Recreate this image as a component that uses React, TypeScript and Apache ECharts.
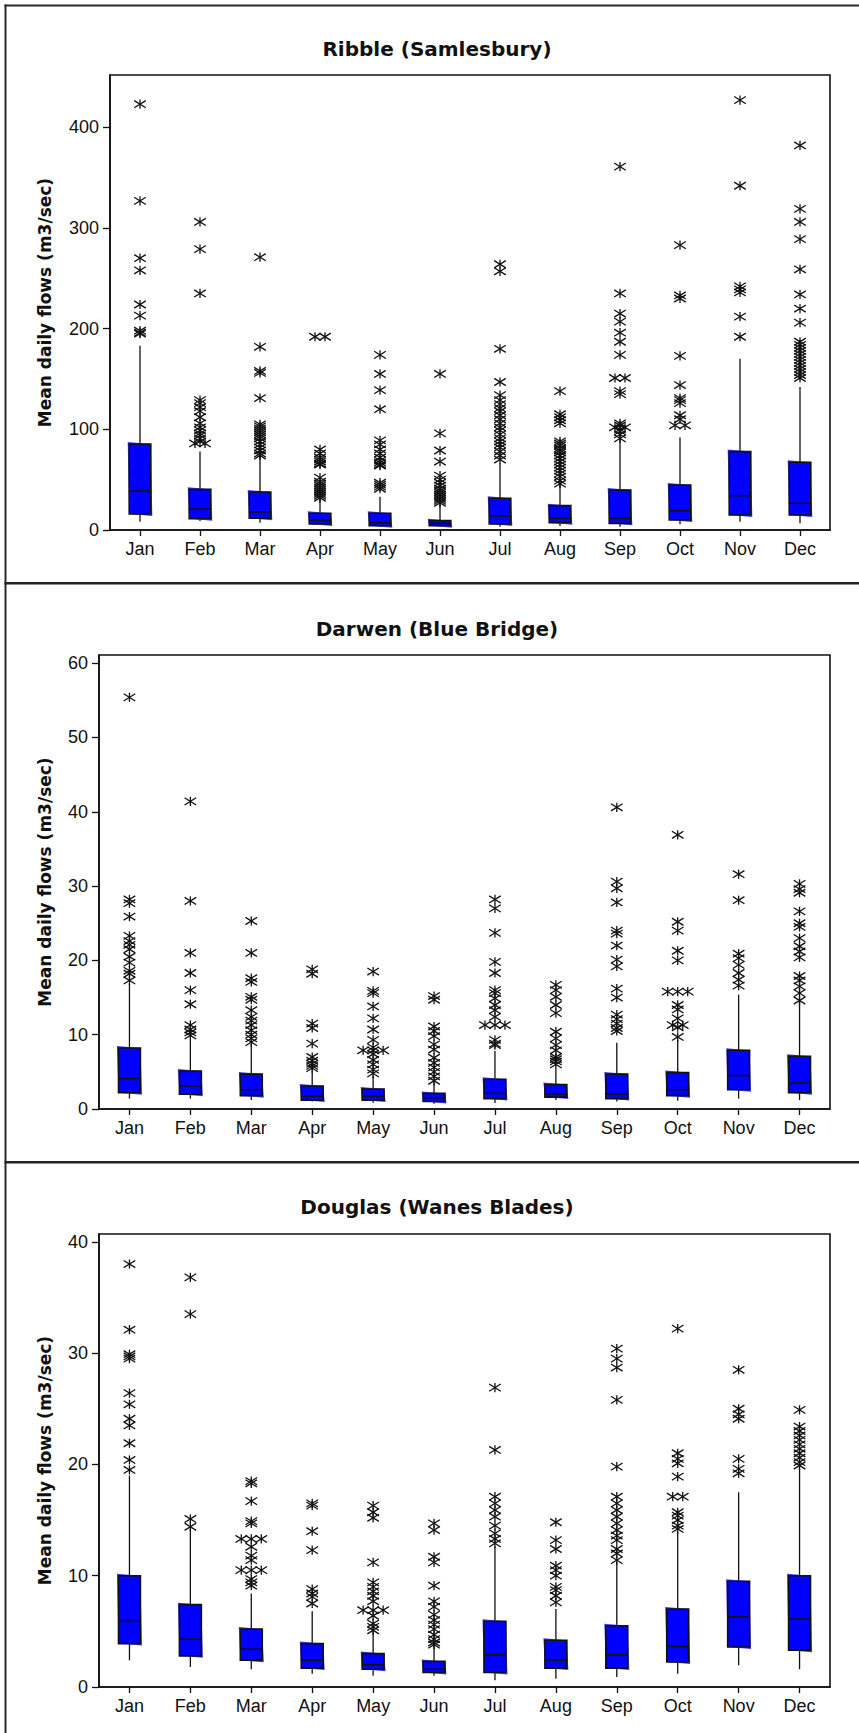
import React, { useEffect, useRef } from "react";
import * as echarts from "echarts";

// Month categories shared by all three gauging stations
const MONTHS = ["Jan", "Feb", "Mar", "Apr", "May", "Jun", "Jul", "Aug", "Sep", "Oct", "Nov", "Dec"];

const Y_NAME = "Mean daily flows (m3/sec)";

// ---------------- Ribble (Samlesbury) ----------------
const RIBBLE_TITLE = "Ribble (Samlesbury)";
const RIBBLE_TICKS = [0, 100, 200, 300, 400];
const RIBBLE_MAX = 452;
// [lower whisker, Q1, median, Q3, upper whisker]
const RIBBLE_BOX = [
  [8.3, 15.9, 38.8, 85.5, 183],
  [9, 11.3, 20.9, 40.4, 78],
  [7.3, 11.6, 17.9, 37.8, 73],
  [5, 6, 9.6, 16.6, 30],
  [3, 4.3, 7.3, 16.6, 33],
  [3, 4.3, 6.6, 9.3, 25],
  [3.3, 6, 13.9, 31.5, 66],
  [4, 7.3, 11.6, 24.2, 45],
  [3.3, 6.6, 11.6, 39.8, 93],
  [5.6, 10, 19.2, 44.7, 92],
  [8.3, 14.9, 34.1, 77.9, 170],
  [6.6, 14.9, 26.5, 67.3, 142],
];
const RIBBLE_OUT = [
  [423, 327, 270, 258, 224, 213, 198, 196, 195],
  [306, 279, 235, 129, 126, 122, 118, 112, 106, 102, 99, 96, 94, 91, 88, 86, 86],
  [271, 182, 158, 156, 131, 105, 103, 101, 99, 97, 95, 93, 91, 88, 85, 82, 79, 76, 74],
  [192, 192, 80, 76, 72, 70, 68, 66, 65, 52, 48, 46, 44, 42, 40, 38, 36, 34, 32],
  [174, 155, 139, 120, 89, 85, 80, 76, 72, 69, 67, 65, 64, 47, 45, 43, 41],
  [155, 96, 79, 68, 54, 50, 47, 44, 41, 39, 37, 35, 33, 31, 29, 27],
  [264, 257, 180, 147, 134, 129, 125, 121, 118, 114, 110, 106, 102, 99, 95, 91, 88, 85, 82, 78, 74, 70],
  [138, 115, 112, 109, 106, 88, 86, 84, 81, 79, 77, 74, 71, 68, 65, 62, 59, 56, 53, 49, 46],
  [361, 235, 215, 207, 196, 187, 174, 151, 151, 138, 135, 106, 104, 102, 102, 100, 98, 95, 91],
  [283, 233, 230, 173, 144, 131, 129, 126, 114, 110, 104, 104],
  [427, 342, 242, 239, 236, 212, 192],
  [382, 319, 306, 289, 259, 234, 220, 206, 187, 184, 181, 178, 175, 172, 169, 166, 163, 160, 157, 154, 151],
];

// ---------------- Darwen (Blue Bridge) ----------------
const DARWEN_TITLE = "Darwen (Blue Bridge)";
const DARWEN_TICKS = [0, 10, 20, 30, 40, 50, 60];
const DARWEN_MAX = 61.1;
const DARWEN_BOX = [
  [1.4, 2.2, 4.1, 8.2, 16.8],
  [1.4, 2.0, 3.1, 5.1, 9.3],
  [1.2, 1.8, 2.6, 4.7, 8.7],
  [1.0, 1.2, 1.7, 3.1, 5.1],
  [0.85, 1.2, 1.7, 2.7, 4.5],
  [0.7, 1.0, 1.5, 2.1, 3.6],
  [0.8, 1.4, 2.1, 4.0, 7.8],
  [1.2, 1.6, 2.0, 3.3, 5.4],
  [1.0, 1.4, 2.0, 4.7, 8.9],
  [1.1, 1.8, 2.6, 4.9, 9.3],
  [1.4, 2.6, 4.5, 7.9, 15.4],
  [1.2, 2.2, 3.5, 7.1, 14.4],
];
const DARWEN_OUT = [
  [55.4, 28.2, 27.7, 25.9, 23.3, 22.6, 22.1, 21.5, 20.5, 19.7, 18.6, 18.2, 17.3],
  [41.4, 28.0, 21.0, 18.3, 16.0, 14.1, 11.3, 10.7, 10.3, 9.9],
  [25.3, 21.0, 17.6, 17.1, 15.1, 14.7, 13.3, 12.4, 11.9, 11.3, 10.6, 10.0, 9.5, 9.0],
  [18.8, 18.2, 11.5, 10.9, 8.8, 7.0, 6.5, 6.1, 5.8, 5.5],
  [18.5, 15.9, 15.6, 13.8, 12.2, 10.7, 9.3, 8.3, 7.9, 7.9, 7.9, 7.4, 6.6, 6.0, 5.3, 4.8],
  [15.2, 14.7, 11.1, 10.5, 9.8, 8.7, 8.0, 6.9, 6.2, 5.6, 5.0, 4.4, 3.8],
  [28.2, 27.0, 23.7, 19.8, 18.3, 16.0, 15.6, 14.9, 14.0, 13.3, 12.4, 11.3, 11.3, 11.3, 9.3, 8.8, 8.6],
  [16.7, 16.0, 15.1, 14.0, 12.9, 10.4, 9.5, 8.6, 7.9, 7.0, 6.7, 6.4, 6.0],
  [40.6, 30.6, 29.7, 27.8, 24.0, 23.6, 22.0, 20.1, 19.2, 16.2, 15.0, 12.7, 12.1, 11.5, 10.9, 10.5],
  [36.9, 25.2, 24.0, 21.3, 20.0, 15.8, 15.8, 15.8, 14.0, 13.4, 12.2, 11.3, 11.3, 11.0, 9.7],
  [31.6, 28.1, 20.9, 20.3, 19.4, 18.3, 17.4, 16.6],
  [30.3, 29.6, 29.1, 26.6, 25.0, 24.5, 23.0, 21.9, 21.2, 20.4, 17.9, 17.3, 16.5, 15.6, 14.6],
];

// ---------------- Douglas (Wanes Blades) ----------------
const DOUGLAS_TITLE = "Douglas (Wanes Blades)";
const DOUGLAS_TICKS = [0, 10, 20, 30, 40];
const DOUGLAS_MAX = 40.7;
const DOUGLAS_BOX = [
  [2.4, 3.9, 5.9, 10.0, 19.0],
  [1.8, 2.8, 4.3, 7.4, 14.2],
  [1.6, 2.4, 3.4, 5.2, 8.4],
  [1.2, 1.7, 2.4, 3.9, 6.8],
  [1.0, 1.6, 2.0, 3.0, 5.0],
  [1.0, 1.3, 1.6, 2.3, 3.6],
  [0.6, 1.3, 2.9, 5.9, 12.6],
  [0.75, 1.7, 2.4, 4.2, 7.0],
  [0.9, 1.7, 2.9, 5.5, 11.2],
  [1.2, 2.25, 3.65, 7.0, 13.9],
  [1.95, 3.6, 6.3, 9.5, 17.5],
  [1.6, 3.3, 6.1, 10.0, 19.6],
];
const DOUGLAS_OUT = [
  [38.0, 32.1, 29.9, 29.7, 29.5, 26.4, 25.4, 24.1, 23.5, 21.9, 20.4, 19.5],
  [36.8, 33.5, 15.1, 14.4],
  [18.5, 18.3, 16.7, 14.9, 14.7, 13.3, 13.3, 13.3, 12.6, 11.8, 11.4, 10.5, 10.5, 10.5, 9.7, 9.4, 9.1],
  [16.5, 16.3, 14.0, 12.3, 8.8, 8.4, 8.1, 7.5],
  [16.3, 15.7, 15.2, 11.2, 9.4, 9.0, 8.6, 8.2, 7.7, 6.9, 6.9, 6.9, 6.4, 5.7, 5.4, 5.1],
  [14.7, 14.1, 11.7, 11.2, 9.1, 7.7, 7.2, 6.5, 6.0, 5.6, 5.2, 4.7, 4.3, 4.0, 3.8],
  [26.9, 21.3, 17.1, 16.5, 15.9, 15.3, 14.5, 13.8, 13.3, 12.9],
  [14.8, 13.2, 12.4, 10.9, 10.5, 10.0, 9.0, 8.7, 8.2, 7.6],
  [30.4, 29.5, 28.7, 25.8, 19.8, 17.1, 16.5, 15.9, 15.3, 14.7, 14.1, 13.6, 13.2, 12.4, 12.0, 11.4],
  [32.2, 21.0, 20.5, 20.1, 18.9, 17.1, 17.1, 15.7, 15.4, 15.0, 14.5, 14.2],
  [28.5, 25.0, 24.5, 24.1, 20.5, 19.6, 19.2],
  [24.9, 23.4, 23.0, 22.6, 22.2, 21.8, 21.4, 21.0, 20.6, 20.2, 19.9],
];

// Page and panel layout
const W = 859;
const H = 1733;
const PANELS = [
  { title: RIBBLE_TITLE, ticks: RIBBLE_TICKS, max: RIBBLE_MAX, box: RIBBLE_BOX, out: RIBBLE_OUT,
    left: 110, top: 75, height: 455, titleY: 49, nameGap: 57 },
  { title: DARWEN_TITLE, ticks: DARWEN_TICKS, max: DARWEN_MAX, box: DARWEN_BOX, out: DARWEN_OUT,
    left: 99, top: 655, height: 454, titleY: 629, nameGap: 46 },
  { title: DOUGLAS_TITLE, ticks: DOUGLAS_TICKS, max: DOUGLAS_MAX, box: DOUGLAS_BOX, out: DOUGLAS_OUT,
    left: 99, top: 1234, height: 453, titleY: 1207, nameGap: 46 },
];
const GRID_RIGHT = 29;
const TITLE_X = 437;

const TICK_FONT = "'Liberation Sans', Arial, sans-serif";
const BOLD_FONT = "'DejaVu Sans', Verdana, sans-serif";
const INK = "#111";

// Tied outliers within a month are laid side by side: [month, value, slot]
function outlierRows(out: number[][]) {
  const rows: number[][] = [];
  out.forEach((vals, m) => {
    const counts = new Map<number, number>();
    vals.forEach((v) => counts.set(v, (counts.get(v) || 0) + 1));
    const seen = new Map<number, number>();
    vals.forEach((v) => {
      const n = counts.get(v) as number;
      const k = seen.get(v) || 0;
      seen.set(v, k + 1);
      rows.push([m, v, k - (n - 1) / 2]);
    });
  });
  return rows;
}

function renderBox(_params: any, api: any) {
  const m = api.value(0);
  const x = api.coord([m, api.value(1)])[0];
  const yLo = api.coord([m, api.value(1)])[1];
  const yQ1 = api.coord([m, api.value(2)])[1];
  const yMed = api.coord([m, api.value(3)])[1];
  const yQ3 = api.coord([m, api.value(4)])[1];
  const yHi = api.coord([m, api.value(5)])[1];
  const band = api.size([1, 0])[0];
  const w = band * 0.36;
  const x0 = x - w / 2;
  const stroke = { stroke: INK, lineWidth: 1.3 };
  return {
    type: "group",
    children: [
      { type: "line", shape: { x1: x, y1: yQ3, x2: x, y2: yHi }, style: stroke },
      { type: "line", shape: { x1: x, y1: yQ1, x2: x, y2: yLo }, style: stroke },
      {
        type: "polygon",
        shape: { points: [[x0 - 1.5, yQ3 - 2], [x0 + w, yQ3], [x0 + w + 1.5, yQ1 + 2], [x0, yQ1]] },
        style: { fill: "#3a3aff" },
      },
      {
        type: "rect",
        shape: { x: x0, y: yQ3, width: w, height: yQ1 - yQ3 },
        style: { fill: "#0000ff", stroke: INK, lineWidth: 1.6 },
      },
      { type: "line", shape: { x1: x0, y1: yMed, x2: x0 + w, y2: yMed }, style: { stroke: INK, lineWidth: 1.6 } },
    ],
  };
}

function renderStar(_params: any, api: any) {
  const p = api.coord([api.value(0), api.value(1)]);
  const cx = p[0] + api.value(2) * 10;
  const cy = p[1];
  const hw = 5.8;
  const hh = 4.6;
  const dh = 3.6;
  const style = { stroke: INK, lineWidth: 1.3 };
  return {
    type: "group",
    children: [
      { type: "line", shape: { x1: cx, y1: cy - hh, x2: cx, y2: cy + hh }, style },
      { type: "line", shape: { x1: cx - hw, y1: cy - dh, x2: cx + hw, y2: cy + dh }, style },
      { type: "line", shape: { x1: cx - hw, y1: cy + dh, x2: cx + hw, y2: cy - dh }, style },
    ],
  };
}

function buildOption() {
  const grid: any[] = [];
  const xAxis: any[] = [];
  const yAxis: any[] = [];
  const series: any[] = [];
  const graphic: any[] = [];

  PANELS.forEach((p, i) => {
    grid.push({
      left: p.left,
      right: GRID_RIGHT,
      top: p.top,
      height: p.height,
      show: true,
      borderColor: INK,
      borderWidth: 1.6,
      backgroundColor: "transparent",
    });
    xAxis.push({
      type: "category",
      gridIndex: i,
      data: MONTHS,
      boundaryGap: true,
      axisLine: { show: true, lineStyle: { color: INK, width: 1.6 } },
      axisTick: { show: true, alignWithLabel: true, interval: 0, length: 6, lineStyle: { color: INK, width: 1.3 } },
      axisLabel: { interval: 0, fontSize: 18, color: INK, fontFamily: TICK_FONT, margin: 10 },
      splitLine: { show: false },
    });
    yAxis.push({
      type: "value",
      gridIndex: i,
      min: 0,
      max: p.max,
      axisLine: { show: true, lineStyle: { color: INK, width: 1.6 } },
      axisTick: { show: true, length: 7, lineStyle: { color: INK, width: 1.3 }, customValues: p.ticks },
      axisLabel: { fontSize: 18, color: INK, fontFamily: TICK_FONT, margin: 11, customValues: p.ticks },
      splitLine: { show: false },
      name: Y_NAME,
      nameLocation: "middle",
      nameRotate: 90,
      nameGap: p.nameGap,
      nameTextStyle: { fontFamily: BOLD_FONT, fontWeight: "bold", fontSize: 17, color: INK },
    });
    series.push({
      type: "custom",
      xAxisIndex: i,
      yAxisIndex: i,
      renderItem: renderBox,
      encode: { x: 0, y: [1, 2, 3, 4, 5] },
      data: p.box.map((b, m) => [m, ...b]),
      z: 2,
    });
    series.push({
      type: "custom",
      xAxisIndex: i,
      yAxisIndex: i,
      renderItem: renderStar,
      encode: { x: 0, y: 1 },
      data: outlierRows(p.out),
      z: 3,
    });
    graphic.push({
      type: "text",
      x: TITLE_X,
      y: p.titleY,
      style: {
        text: p.title,
        fill: INK,
        font: `bold 20px ${BOLD_FONT}`,
        align: "center",
        verticalAlign: "middle",
      },
    });
  });

  // Frame rules: top edge, left edge and the dividers between stations
  graphic.push({ type: "rect", shape: { x: 4.5, y: 4.5, width: W - 4.5, height: 2 }, style: { fill: "#2a2a2a" } });
  graphic.push({ type: "rect", shape: { x: 4.5, y: 4.5, width: 2, height: H - 4.5 }, style: { fill: "#2a2a2a" } });
  graphic.push({ type: "rect", shape: { x: 4.5, y: 582, width: W - 4.5, height: 2.6 }, style: { fill: "#222" } });
  graphic.push({ type: "rect", shape: { x: 4.5, y: 1161, width: W - 4.5, height: 2.6 }, style: { fill: "#222" } });

  return {
    animation: false,
    backgroundColor: "#ffffff",
    grid,
    xAxis,
    yAxis,
    series,
    graphic,
  };
}

export default function App() {
  const ref = useRef<HTMLDivElement>(null);
  useEffect(() => {
    if (!ref.current) return;
    const chart = echarts.init(ref.current, undefined, { renderer: "svg" });
    chart.setOption(buildOption() as any);
    return () => chart.dispose();
  }, []);
  return (
    <div
      ref={ref}
      style={{ position: "absolute", left: 0, top: 0, width: W, height: H, background: "#fff" }}
    />
  );
}
